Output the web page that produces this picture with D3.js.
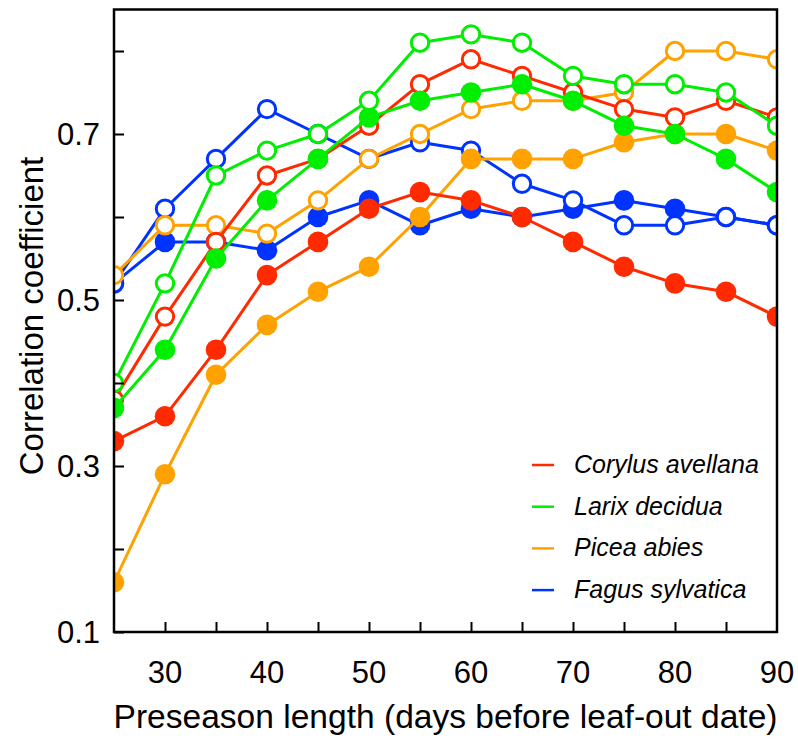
<!DOCTYPE html>
<html><head><meta charset="utf-8">
<script src="https://cdn.jsdelivr.net/npm/d3@7"></script>
<style>body{margin:0;background:#fff;} svg{display:block;font-family:"Liberation Sans",Arial,sans-serif;}</style>
</head><body>
<svg id="chart" width="798" height="740"></svg>
<script>
const days = [25,30,35,40,45,50,55,60,65,70,75,80,85,90];
const species = ["Corylus avellana","Larix decidua","Picea abies","Fagus sylvatica"];
const colors = ["#ff2a00","#00ee00","#ffa200","#0033ff"];
const corylusFilled = [0.33,0.36,0.44,0.53,0.57,0.61,0.63,0.62,0.60,0.57,0.54,0.52,0.51,0.48];
const corylusOpen   = [0.38,0.48,0.57,0.65,0.67,0.71,0.76,0.79,0.77,0.75,0.73,0.72,0.74,0.72];
const larixFilled   = [0.37,0.44,0.55,0.62,0.67,0.72,0.74,0.75,0.76,0.74,0.71,0.70,0.67,0.63];
const larixOpen     = [0.40,0.52,0.65,0.68,0.70,0.74,0.81,0.82,0.81,0.77,0.76,0.76,0.75,0.71];
const piceaFilled   = [0.16,0.29,0.41,0.47,0.51,0.54,0.60,0.67,0.67,0.67,0.69,0.70,0.70,0.68];
const piceaOpen     = [0.53,0.59,0.59,0.58,0.62,0.67,0.70,0.73,0.74,0.74,0.75,0.80,0.80,0.79];
const fagusFilled   = [0.52,0.57,0.57,0.56,0.60,0.62,0.59,0.61,0.60,0.61,0.62,0.61,0.60,0.59];
const fagusOpen     = [0.52,0.61,0.67,0.73,0.70,0.67,0.69,0.68,0.64,0.62,0.59,0.59,0.60,0.59];
const yTickLabels = [0.1,0.3,0.5,0.7];
const yMinorTicks = [0.2,0.4,0.6,0.8];
const xTickLabels = [30,40,50,60,70,80,90];

// draw order: Fagus, Picea, Corylus, Larix
const series = [
  {sp:3, vals:fagusFilled, open:false},{sp:3, vals:fagusOpen, open:true},
  {sp:2, vals:piceaFilled, open:false},{sp:2, vals:piceaOpen, open:true},
  {sp:0, vals:corylusFilled, open:false},{sp:0, vals:corylusOpen, open:true},
  {sp:1, vals:larixFilled, open:false},{sp:1, vals:larixOpen, open:true}
];

const L=114, R=777, T=9.5, B=632;
const svg = d3.select("#chart");
const x = d3.scaleLinear().domain([25,90]).range([L,R]);
const y = d3.scaleLinear().domain([0.1,0.85]).range([B,T]);

svg.append("defs").append("clipPath").attr("id","clip")
  .append("rect").attr("x",L).attr("y",T).attr("width",R-L).attr("height",B-T);

const g = svg.append("g").attr("clip-path","url(#clip)");
const line = d3.line().x((d,i)=>x(days[i])).y(d=>y(d));
series.forEach(s=>{
  const c = colors[s.sp];
  g.append("path").datum(s.vals).attr("d",line).attr("fill","none")
    .attr("stroke",c).attr("stroke-width",3).attr("stroke-linejoin","round");
  g.selectAll(null).data(s.vals).enter().append("circle")
    .attr("cx",(d,i)=>x(days[i])).attr("cy",d=>y(d))
    .attr("r", s.open?8.7:10.3)
    .attr("fill", s.open?"#fff":c)
    .attr("stroke", s.open?c:"none").attr("stroke-width",3);
});

// frame
svg.append("rect").attr("x",L).attr("y",T).attr("width",R-L).attr("height",B-T)
  .attr("fill","none").attr("stroke","#000").attr("stroke-width",2.5);

// x ticks (inward) every 5
const xt = d3.range(30,90,5);
svg.append("g").call(d3.axisBottom(x).tickValues(xt).tickSize(-10).tickFormat(""))
  .attr("transform",`translate(0,${B})`)
  .call(a=>{a.select(".domain").remove(); a.selectAll("line").attr("stroke","#000").attr("stroke-width",2);});
svg.append("g").selectAll("text").data(xTickLabels).enter().append("text")
  .attr("x",d=>x(d)).attr("y",683).attr("text-anchor","middle")
  .attr("font-size",31).text(d=>d);

// y ticks
const yAll = yTickLabels.concat(yMinorTicks);
svg.append("g").call(d3.axisLeft(y).tickValues(yAll).tickSize(-10).tickFormat(""))
  .attr("transform",`translate(${L},0)`)
  .call(a=>{a.select(".domain").remove(); a.selectAll("line").attr("stroke","#000").attr("stroke-width",2);});
svg.append("g").selectAll("text").data(yTickLabels).enter().append("text")
  .attr("x",100).attr("y",d=>y(d)+11).attr("text-anchor","end")
  .attr("font-size",31).text(d=>d.toFixed(1));

// axis titles
svg.append("text").attr("x",(L+R)/2).attr("y",728).attr("text-anchor","middle")
  .attr("font-size",33).attr("textLength",664).attr("lengthAdjust","spacingAndGlyphs")
  .text("Preseason length (days before leaf-out date)");
svg.append("text").attr("transform",`translate(43,316) rotate(-90)`)
  .attr("text-anchor","middle").attr("font-size",33).text("Correlation coefficient");

// legend
const lg = svg.append("g");
species.forEach((s,i)=>{
  const yy = 465 + i*41.7;
  lg.append("line").attr("x1",532).attr("x2",554).attr("y1",yy).attr("y2",yy)
    .attr("stroke",colors[i]).attr("stroke-width",2.5);
  lg.append("text").attr("x",574).attr("y",yy+8).attr("font-size",25)
    .attr("font-style","italic").text(s);
});
</script>
</body></html>
